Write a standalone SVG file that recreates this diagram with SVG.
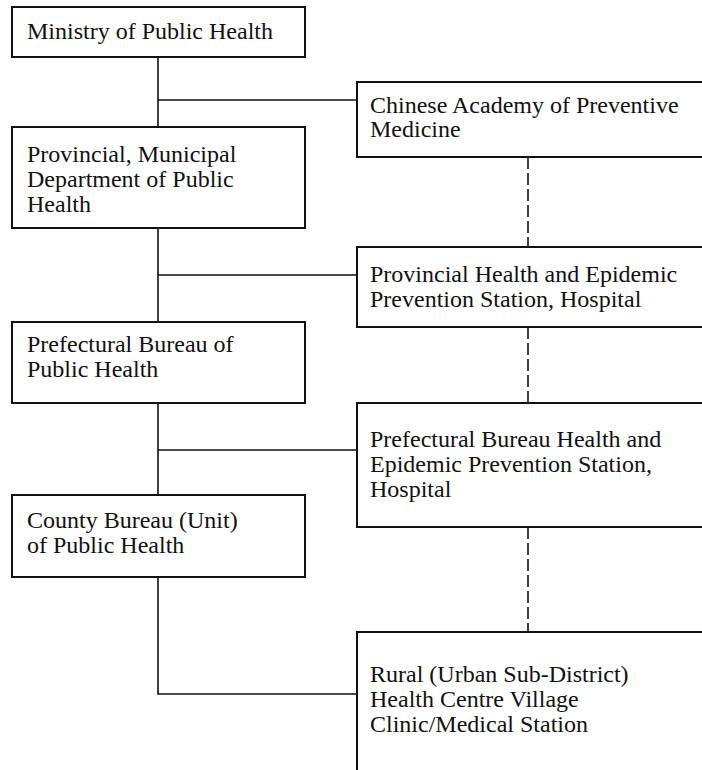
<svg xmlns="http://www.w3.org/2000/svg" width="702" height="770" viewBox="0 0 702 770">
<style>
.box{fill:#fff;stroke:#111;stroke-width:2}
.open{fill:#fff;stroke:#111;stroke-width:2}
.t{font-family:"Liberation Serif","Times New Roman",serif;font-size:24px;fill:#111}
.c{fill:none;stroke:#111;stroke-width:1.6}
.d{fill:none;stroke:#111;stroke-width:1.6;stroke-dasharray:12 4}
</style>
<rect width="702" height="770" fill="#fff"/>
<g id="connectors">
<path class="c" d="M158 57V127M158 100H357"/>
<path class="c" d="M158 228V322M158 275H357"/>
<path class="c" d="M158 403V495M158 450H357"/>
<path class="c" d="M158 577V694H357"/>
<path class="d" d="M528 157V247"/>
<path class="d" d="M528 327V403"/>
<path class="d" d="M528 527V632"/>
</g>
<g id="ministry">
<rect class="box" x="12" y="7" width="293" height="50"/>
<text class="t" x="27" y="39">Ministry of Public Health</text>
</g>
<g id="provincial-dept">
<rect class="box" x="12" y="127" width="293" height="101"/>
<text class="t" x="27" y="162">Provincial, Municipal</text>
<text class="t" x="27" y="187">Department of Public</text>
<text class="t" x="27" y="212">Health</text>
</g>
<g id="prefectural-bureau">
<rect class="box" x="12" y="322" width="293" height="81"/>
<text class="t" x="27" y="352">Prefectural Bureau of</text>
<text class="t" x="27" y="377">Public Health</text>
</g>
<g id="county-bureau">
<rect class="box" x="12" y="495" width="293" height="82"/>
<text class="t" x="27" y="528">County Bureau (Unit)</text>
<text class="t" x="27" y="553">of Public Health</text>
</g>
<g id="academy">
<path class="open" d="M704 82H357V157H704"/>
<text class="t" x="370" y="113">Chinese Academy of Preventive</text>
<text class="t" x="370" y="137">Medicine</text>
</g>
<g id="provincial-station">
<path class="open" d="M704 247H357V327H704"/>
<text class="t" x="370" y="282">Provincial Health and Epidemic</text>
<text class="t" x="370" y="307">Prevention Station, Hospital</text>
</g>
<g id="prefectural-station">
<path class="open" d="M704 403H357V527H704"/>
<text class="t" x="370" y="447">Prefectural Bureau Health and</text>
<text class="t" x="370" y="472">Epidemic Prevention Station,</text>
<text class="t" x="370" y="497">Hospital</text>
</g>
<g id="rural">
<path class="open" d="M704 632H357V772"/>
<text class="t" x="370" y="682">Rural (Urban Sub-District)</text>
<text class="t" x="370" y="707">Health Centre Village</text>
<text class="t" x="370" y="732">Clinic/Medical Station</text>
</g>
</svg>
